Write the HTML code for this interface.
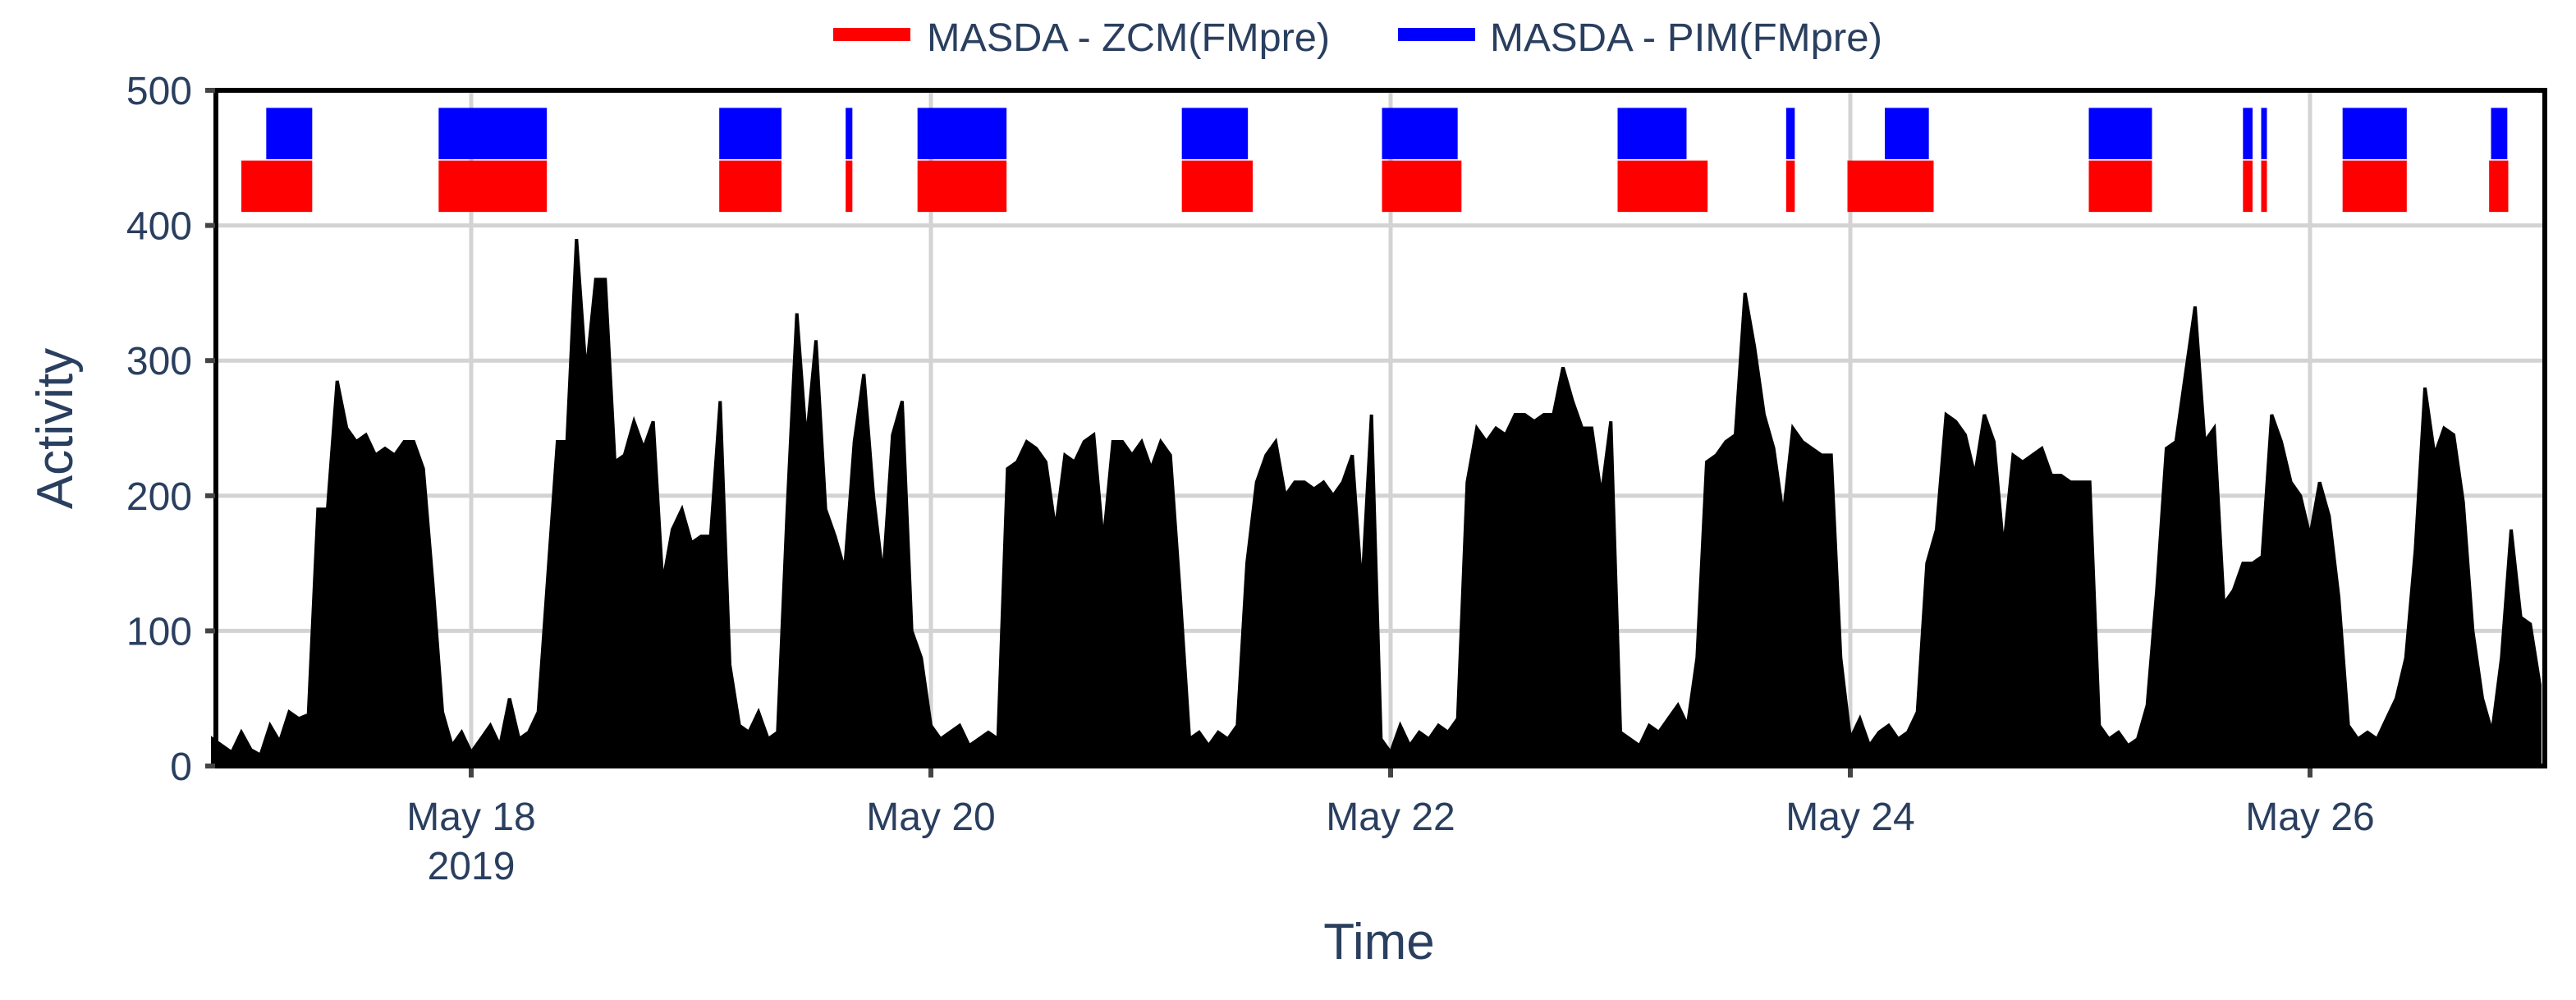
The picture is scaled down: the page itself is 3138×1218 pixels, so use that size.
<!DOCTYPE html>
<html><head><meta charset="utf-8"><style>
html,body{margin:0;padding:0;background:#fff;}
svg{display:block;font-family:"Liberation Sans",sans-serif;}
</style></head><body>
<svg id="chart" width="3138" height="1218" viewBox="0 0 3138 1218">
<g id="grid"></g>
<g id="series"></g>
<g id="blocks"></g>
<rect x="263" y="110" width="2837" height="823" fill="none" stroke="#000" stroke-width="6"/>
<g id="axes"></g>
<g>
  <g>
    <rect x="1015" y="34" width="94" height="16" fill="#ff0000"/>
    <text x="1129" y="62" font-size="48" fill="#2a3f5f" textLength="491" lengthAdjust="spacingAndGlyphs">MASDA - ZCM(FMpre)</text>
  </g>
  <g>
    <rect x="1703" y="34" width="94" height="16" fill="#0000ff"/>
    <text x="1815" y="62" font-size="48" fill="#2a3f5f" textLength="478" lengthAdjust="spacingAndGlyphs">MASDA - PIM(FMpre)</text>
  </g>
</g>
<text x="1680" y="1168" font-size="62" fill="#2a3f5f" text-anchor="middle">Time</text>
<text transform="translate(88,522) rotate(-90)" font-size="62" fill="#2a3f5f" text-anchor="middle">Activity</text>
</svg>
<script>
// ---- data ----
const startHour = -27; // hours relative to May 18 00:00
const activityPeaks = [
20,15,10,25,12,8,30,18,40,35,38,
190,190,285,250,240,245,230,235,230,240,240,220,135,40,
15,25,10,20,30,15,50,20,25,40,
140,240,240,390,290,360,360,225,230,255,235,255,135,175,190,165,170,170,270,
75,30,25,40,20,25,
190,335,240,315,190,170,145,240,290,200,140,245,270,100,80,
30,20,25,30,15,20,25,20,
220,225,240,235,225,175,230,225,240,245,165,240,240,230,240,220,240,230,130,
20,25,15,25,20,30,
150,210,230,240,200,210,210,205,210,200,210,230,130,260,
20,10,30,15,25,20,30,25,35,
210,250,240,250,245,260,260,255,260,260,295,270,250,250,200,255,
25,20,15,30,25,35,45,30,
80,225,230,240,245,350,310,260,235,185,250,240,235,230,230,80,
20,35,15,25,30,20,25,
40,150,175,260,255,245,215,260,240,160,230,225,230,235,215,215,210,210,210,
30,20,25,15,20,
45,130,235,240,290,340,240,250,120,130,150,150,155,260,240,210,200,170,210,185,125,
30,20,25,20,35,
50,80,160,280,230,250,245,195,100,50,25,80,175,110,105,60
];
const zcmStart = [-24.0,-3.4,25.9,39.1,46.6,74.2,95.1,119.7,137.3,143.7,168.9,185.0,186.9,195.4,210.7];
const zcmEnd   = [-16.6, 7.9,32.4,39.8,55.9,81.6,103.4,129.1,138.2,152.7,175.5,186.0,187.5,202.1,212.7];
const pimStart = [-21.4,-3.4,25.9,39.1,46.6,74.2,95.1,119.7,137.3,147.6,168.9,185.0,186.9,195.4,210.9];
const pimEnd   = [-16.6, 7.9,32.4,39.8,55.9,81.1,103.0,126.9,138.2,152.2,175.5,186.0,187.5,202.1,212.6];
const zcmBand = [410, 448];
const pimBand = [449, 487];
const yTicks = [0,100,200,300,400,500];
const xTickDays = [0,2,4,6,8];
const xTickLabels = ["May 18","May 20","May 22","May 24","May 26"];

// ---- axes ----
const X0 = 574, PX_PER_HOUR = 280/24;
function xs(h){ return X0 + h*PX_PER_HOUR; }
function ys(v){ return 933 - v*(823/500); }
const NS = "http://www.w3.org/2000/svg";
function mk(tag, attrs, parent){ const e=document.createElementNS(NS,tag); for(const k in attrs) e.setAttribute(k,attrs[k]); parent.appendChild(e); return e; }

const grid = document.getElementById('grid');
const axes = document.getElementById('axes');
yTicks.forEach(v=>{
  if(v>0 && v<500){
    const l = mk('line',{x1:263,x2:3100,y1:ys(v),y2:ys(v),stroke:'#d3d3d3','stroke-width':5},grid);
    
    
  }
  const t = mk('line',{x1:250,x2:262,y1:ys(v),y2:ys(v),stroke:'#444','stroke-width':6},axes);
  
  
  const tx = mk('text',{x:234,y:ys(v)+17,'font-size':48,fill:'#2a3f5f','text-anchor':'end'},axes);
  tx.textContent = v;
  
  
});
xTickDays.forEach((d,i)=>{
  const x = xs(d*24);
  const l = mk('line',{x1:x,x2:x,y1:113,y2:930,stroke:'#d3d3d3','stroke-width':5},grid);
  
  
  const t = mk('line',{x1:x,x2:x,y1:936,y2:947,stroke:'#444','stroke-width':6},axes);
  
  
  const tx = mk('text',{x:x,y:1011,'font-size':48,fill:'#2a3f5f','text-anchor':'middle'},axes);
  tx.textContent = xTickLabels[i];
  
  
});
const yr = mk('text',{x:xs(0),y:1071,'font-size':48,fill:'#2a3f5f','text-anchor':'middle'},axes);
yr.textContent = "2019";



// ---- activity series ----
const series = document.getElementById('series');
let pts = [];
activityPeaks.forEach((v,i)=>{ pts.push(xs(startHour+i).toFixed(1)+','+ys(v).toFixed(1)); });
const firstX = xs(startHour), lastX = xs(startHour+activityPeaks.length-1);
const area = mk('polygon',{points: firstX+','+ys(0)+' '+pts.join(' ')+' '+lastX+','+ys(0), fill:'#000', stroke:'#000','stroke-width':4,'stroke-linejoin':'miter'},series);



// ---- MASDA blocks ----
const blocks = document.getElementById('blocks');
zcmStart.forEach((s,i)=>{
  const r = mk('rect',{x:xs(s),y:ys(zcmBand[1]),width:Math.max(3,xs(zcmEnd[i])-xs(s)),height:ys(zcmBand[0])-ys(zcmBand[1]),fill:'#ff0000'},blocks);
  
  
});
pimStart.forEach((s,i)=>{
  const r = mk('rect',{x:xs(s),y:ys(pimBand[1]),width:Math.max(3,xs(pimEnd[i])-xs(s)),height:ys(pimBand[0])-ys(pimBand[1]),fill:'#0000ff'},blocks);
  
  
});
</script>
</body></html>
